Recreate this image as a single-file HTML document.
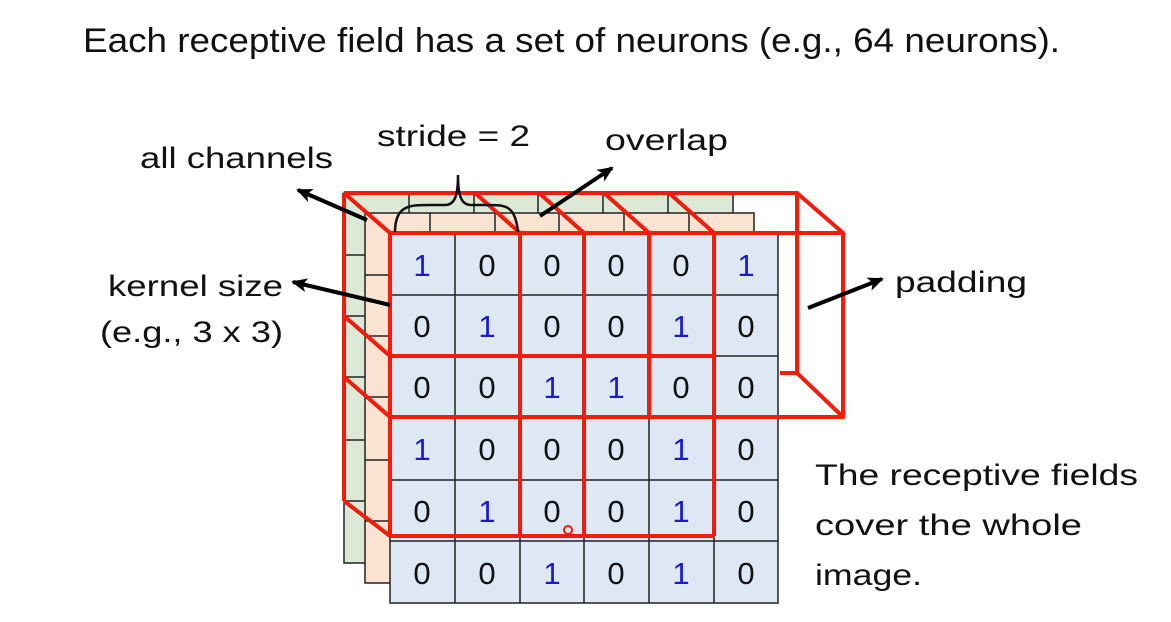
<!DOCTYPE html>
<html><head><style>
html,body{margin:0;padding:0;background:#fff;}
svg{display:block;}
text{font-family:"Liberation Sans","DejaVu Sans",sans-serif;}
</style></head><body>
<svg width="1171" height="622" viewBox="0 0 1171 622" xmlns="http://www.w3.org/2000/svg">
<defs>
<marker id="ah" markerWidth="16" markerHeight="14" refX="14" refY="7" orient="auto" markerUnits="userSpaceOnUse">
<path d="M0,0 L16,7 L0,14 L4,7 Z" fill="#000"/>
</marker>
</defs>
<text x="83" y="52" font-size="34" textLength="977" lengthAdjust="spacingAndGlyphs" fill="#111">Each receptive field has a set of neurons (e.g., 64 neurons).</text>

<!-- green layer -->
<g stroke="#222" stroke-width="1.5" fill="#dce9d6">
<rect x="344" y="193" width="389" height="370"/>
<path d="M344 255H733M344 316H733M344 377H733M344 440H733M344 501H733M409 193V563M474 193V563M538 193V563M603 193V563M668 193V563" fill="none"/>
</g>
<!-- orange layer -->
<g stroke="#222" stroke-width="1.5" fill="#fbe3d2">
<rect x="365" y="213" width="389" height="370"/>
<path d="M365 275H754M365 336H754M365 397H754M365 460H754M365 521H754M430 213V583M495 213V583M559 213V583M624 213V583M689 213V583" fill="none"/>
</g>
<!-- front grid -->
<g stroke="#222" stroke-width="1.5" fill="#dde8f4">
<rect x="390" y="233" width="388" height="370"/>
<path d="M390 295H778M390 356H778M390 417H778M390 480H778M390 541H778M455 233V603M520 233V603M584 233V603M649 233V603M714 233V603" fill="none"/>
</g>
<g font-size="31" text-anchor="middle" fill="#111">
<text x="422" y="276" fill="#1a1acc">1</text><text x="487" y="276">0</text><text x="552" y="276">0</text><text x="616" y="276">0</text><text x="681" y="276">0</text><text x="746" y="276" fill="#1a1acc">1</text>
<text x="422" y="337">0</text><text x="487" y="337" fill="#1a1acc">1</text><text x="552" y="337">0</text><text x="616" y="337">0</text><text x="681" y="337" fill="#1a1acc">1</text><text x="746" y="337">0</text>
<text x="422" y="398">0</text><text x="487" y="398">0</text><text x="552" y="398" fill="#1a1acc">1</text><text x="616" y="398" fill="#1a1acc">1</text><text x="681" y="398">0</text><text x="746" y="398">0</text>
<text x="422" y="460" fill="#1a1acc">1</text><text x="487" y="460">0</text><text x="552" y="460">0</text><text x="616" y="460">0</text><text x="681" y="460" fill="#1a1acc">1</text><text x="746" y="460">0</text>
<text x="422" y="522">0</text><text x="487" y="522" fill="#1a1acc">1</text><text x="552" y="522">0</text><text x="616" y="522">0</text><text x="681" y="522" fill="#1a1acc">1</text><text x="746" y="522">0</text>
<text x="422" y="584">0</text><text x="487" y="584">0</text><text x="552" y="584" fill="#1a1acc">1</text><text x="616" y="584">0</text><text x="681" y="584" fill="#1a1acc">1</text><text x="746" y="584">0</text>
</g>

<!-- red boxes -->
<g stroke="#f21c0c" stroke-width="4" fill="none" stroke-linejoin="round">
<path d="M344 193H797V373H780"/>
<path d="M344 193V501"/>
<path d="M390 233H843V417H390"/>
<path d="M390 356H714"/>
<path d="M390 536H714"/>
<path d="M390 233V536M520 233V536M584 233V536M649 233V417M714 233V536"/>
<path d="M344 193L390 233M475 193L520 233M539 193L584 233M604 193L649 233M669 193L714 233M797 193L843 233M797 373L843 417"/>
<path d="M344 316L390 356M344 377L390 417M344 501L390 536"/>
</g>
<circle cx="568" cy="530" r="4" fill="none" stroke="#f21c0c" stroke-width="2"/>

<!-- brace -->
<path d="M395 232 C395 205 410 205 430 205 L445 205 C455 205 458 195 458 175 C458 195 461 205 471 205 L486 205 C506 205 515 205 518 232" fill="none" stroke="#111" stroke-width="2.5"/>

<!-- arrows -->
<g stroke="#000" stroke-width="4" marker-end="url(#ah)">
<line x1="367" y1="220" x2="298" y2="190"/>
<line x1="390" y1="305" x2="293" y2="282"/>
<line x1="540" y1="216" x2="612" y2="168"/>
<line x1="808" y1="308" x2="882" y2="279"/>
</g>

<g font-size="30" fill="#111" lengthAdjust="spacingAndGlyphs">
<text x="140" y="168" textLength="193" lengthAdjust="spacingAndGlyphs">all channels</text>
<text x="377" y="146" textLength="153" lengthAdjust="spacingAndGlyphs">stride = 2</text>
<text x="605" y="150" textLength="123" lengthAdjust="spacingAndGlyphs">overlap</text>
<text x="108" y="296" textLength="175" lengthAdjust="spacingAndGlyphs">kernel size</text>
<text x="100" y="342" textLength="183" lengthAdjust="spacingAndGlyphs">(e.g., 3 x 3)</text>
<text x="895" y="292" textLength="132" lengthAdjust="spacingAndGlyphs">padding</text>
<text x="815" y="485" textLength="323" lengthAdjust="spacingAndGlyphs">The receptive fields</text>
<text x="815" y="535" textLength="267" lengthAdjust="spacingAndGlyphs">cover the whole</text>
<text x="815" y="585" textLength="107" lengthAdjust="spacingAndGlyphs">image.</text>
</g>
</svg>
</body></html>
